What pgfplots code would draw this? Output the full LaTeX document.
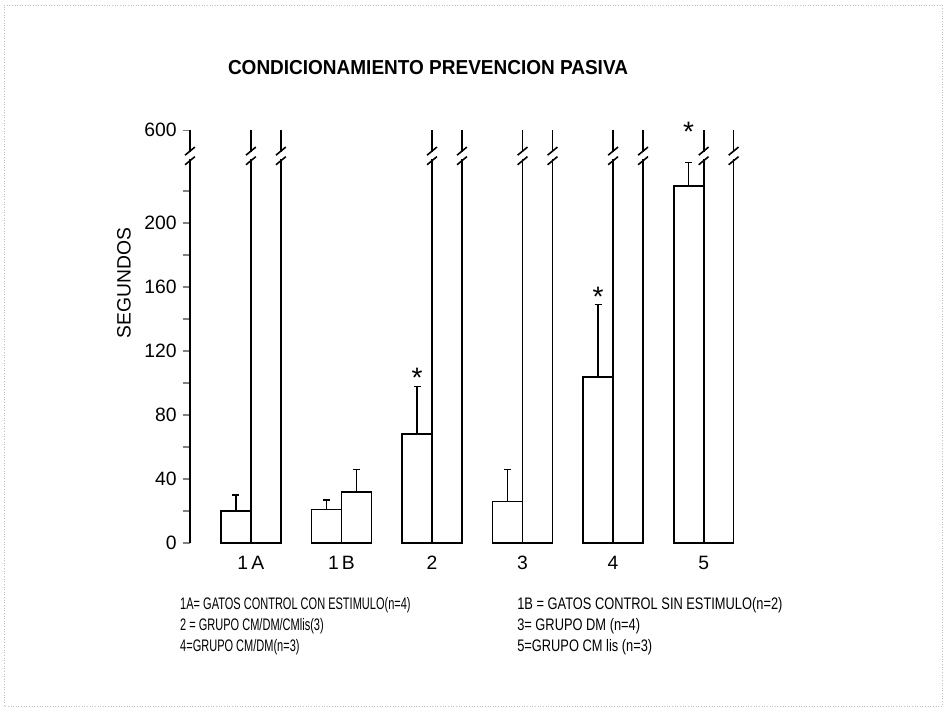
\documentclass[border=0pt]{standalone}
\usepackage{fontspec}
\setmainfont{Liberation Sans}
\usepackage{pgfplots}
\pgfplotsset{compat=1.18}

\begin{document}
\begin{tikzpicture}[x=0.02cm,y=0.02cm]
\path[use as bounding box] (0,0) rectangle (946,711);
\draw[gray!50, densely dotted, line width=0.5pt] (4,5) rectangle (942,706);

\begin{axis}[
    at={(3.8cm,3.36cm)}, anchor=south west, scale only axis,
    width=11.0cm, height=8.256cm,
    xmin=-0.673, xmax=5.4,
    ymin=0, ymax=258,
    clip mode=individual,
    axis y line=left, axis x line=bottom,
    axis line style={-},
    y axis line style={line width=1.3pt},
    x axis line style={draw=none},
    xtick={0,1,2,3,4,5},
    xticklabels={1\,A,1\,B,2,3,4,5},
    xtick style={draw=none},
    ytick={0,40,80,120,160,200,258},
    yticklabels={0,40,80,120,160,200,600},
    minor ytick={20,60,100,140,180,220},
    tick align=outside,
    major tick length=4pt, minor tick length=4pt,
    ytick style={line width=0.8pt},
    ticklabel style={font=\fontsize{11}{13}\selectfont},
]
% short bars, left of each pair
\addplot[ybar, bar width=0.331, bar shift=0pt, fill=white, draw=black, line width=1pt,
    error bars/.cd, y dir=plus, y explicit,
    error bar style={line width=0.8pt},
    error mark options={rotate=90, mark size=2pt, line width=0.8pt}]
coordinates {
    (-0.1655,20) +- (0,10)
    (0.8345,21)  +- (0,6)
    (1.8345,68)  +- (0,30)
    (2.8345,26)  +- (0,20)
    (3.8345,104) +- (0,45)
    (4.8345,223) +- (0,15)
};
% right bar of group 1B
\addplot[ybar, bar width=0.331, bar shift=0pt, fill=white, draw=black, line width=1pt,
    error bars/.cd, y dir=plus, y explicit,
    error bar style={line width=0.8pt},
    error mark options={rotate=90, mark size=2pt, line width=0.8pt}]
coordinates {(1.1655,32) +- (0,14)};
% right bars that reach 600 s (top cut by the axis)
\addplot[ybar, bar width=0.331, bar shift=0pt, fill=white, draw=black, line width=1pt]
coordinates {(0.1655,280) (2.1655,280) (3.1655,280) (4.1655,280) (5.1655,280)};

% axis breaks
\pgfplotsinvokeforeach{-0.673,0,0.331,2,2.331,3,3.331,4,4.331,5,5.331}{
  \fill[white] ([xshift=-3pt]axis cs:#1,239.8) rectangle ([xshift=3pt]axis cs:#1,244.2);
  \draw[line width=0.9pt] ([xshift=-2.8pt,yshift=-2.3pt]axis cs:#1,239) -- ([xshift=2.8pt,yshift=2.3pt]axis cs:#1,239);
  \draw[line width=0.9pt] ([xshift=-2.8pt,yshift=-2.3pt]axis cs:#1,245) -- ([xshift=2.8pt,yshift=2.3pt]axis cs:#1,245);
}

% significance marks
\node[font=\fontsize{16}{16}\selectfont, inner sep=0pt, yshift=-3.5pt] at (axis cs:1.8345,107) {*};
\node[font=\fontsize{16}{16}\selectfont, inner sep=0pt, yshift=-3.5pt] at (axis cs:3.8345,158) {*};
\node[font=\fontsize{16}{16}\selectfont, inner sep=0pt, yshift=-3.5pt] at (axis cs:4.8345,261) {*};
\end{axis}

\node[font=\bfseries\fontsize{11.5}{13}\selectfont, xscale=0.94] at (428,643) {CONDICIONAMIENTO PREVENCION PASIVA};
\node[rotate=90, font=\fontsize{11}{13}\selectfont] at (124,428) {SEGUNDOS};

\begin{scope}[every node/.style={anchor=west, inner sep=0pt, font=\fontsize{9.5}{11}\selectfont}]
\node[xscale=0.66] at (180,106) {1A= GATOS CONTROL CON ESTIMULO(n=4)};
\node[xscale=0.66] at (180,85)  {2 = GRUPO CM/DM/CMlis(3)};
\node[xscale=0.66] at (180,64)  {4=GRUPO CM/DM(n=3)};
\node[xscale=0.77] at (517,106) {1B = GATOS CONTROL SIN ESTIMULO(n=2)};
\node[xscale=0.77] at (517,85)  {3= GRUPO DM (n=4)};
\node[xscale=0.77] at (517,64)  {5=GRUPO CM lis (n=3)};
\end{scope}
\end{tikzpicture}
\end{document}
